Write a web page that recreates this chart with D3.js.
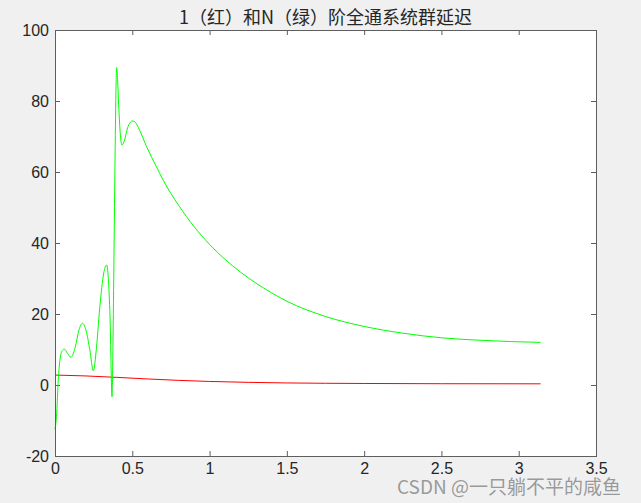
<!DOCTYPE html>
<html lang="zh">
  <head>
    <meta charset="UTF-8" />
    <title>群延迟</title>
    <script src="https://d3js.org/d3.v7.min.js"></script>
    <style>
      body { margin: 0; background: #f0f0f0; }
    </style>
  </head>
  <body>
    <script>
      // values (x in rad, y in samples)
      var redX = [0, 0.2, 0.4, 0.6, 0.8, 1.0, 1.25, 1.5, 2.0, 2.5, 3.1416];
      var redY = [2.8, 2.55, 2.15, 1.7, 1.3, 1.0, 0.75, 0.58, 0.43, 0.36, 0.33];

      var greenX = [0, 0.011, 0.021, 0.032, 0.043, 0.06, 0.08, 0.103, 0.13, 0.155,
        0.177, 0.2, 0.225, 0.248, 0.265, 0.29, 0.315, 0.334, 0.345, 0.356,
        0.369, 0.373, 0.38, 0.388, 0.394, 0.399, 0.405, 0.412, 0.423, 0.433,
        0.45, 0.47, 0.502, 0.52, 0.545, 0.593, 0.65, 0.7, 0.8, 0.9,
        1.0, 1.1, 1.2, 1.3, 1.4, 1.5, 1.75, 2.0, 2.25, 2.5,
        2.75, 3.1416];
      var greenY = [-12.5, -8, 1.4, 7.0, 9.4, 10.1, 9.0, 7.8, 10.5, 15.5,
        17.4, 15.5, 10, 4.0, 9, 22, 31.5, 33.8, 30, 19.2,
        -3.3, 5, 30, 62, 82, 89.4, 86, 78.9, 70.4, 67.6,
        69, 72.5, 74.4, 74.0, 72.0, 67.1, 62.0, 57.7, 50.6, 44.6,
        39.6, 35.4, 31.8, 28.7, 26.0, 23.6, 19.3, 16.5, 14.6, 13.3,
        12.6, 12.0];

      var xTicks = [0, 0.5, 1, 1.5, 2, 2.5, 3, 3.5];
      var yTicks = [-20, 0, 20, 40, 60, 80, 100];
      var title = "1（红）和N（绿）阶全通系统群延迟";

      var W = 641, H = 503;
      var m = { left: 55, right: 596, top: 30, bottom: 456 };

      var svg = d3.select("body").append("svg")
        .attr("width", W).attr("height", H);

      svg.append("rect").attr("width", W).attr("height", H).attr("fill", "#f0f0f0");
      svg.append("rect")
        .attr("x", m.left).attr("y", m.top)
        .attr("width", m.right - m.left).attr("height", m.bottom - m.top)
        .attr("fill", "#fff");

      var x = d3.scaleLinear().domain([0, 3.5]).range([m.left, m.right]);
      var y = d3.scaleLinear().domain([-20, 100]).range([m.bottom, m.top]);

      var fmt = function (d) { return String(d); };
      var font = "'Liberation Sans', Arial, sans-serif";

      function styleAxis(g) {
        g.select(".domain").remove();
        g.selectAll(".tick line").attr("stroke", "#5e5e5e");
        g.selectAll(".tick text")
          .attr("fill", "#262626")
          .style("font-family", font)
          .style("font-size", "16px");
      }

      svg.append("g").attr("transform", "translate(0," + m.bottom + ")")
        .call(d3.axisBottom(x).tickValues(xTicks).tickFormat(fmt)
          .tickSizeInner(-5).tickSizeOuter(0).tickPadding(7))
        .call(styleAxis);
      svg.append("g").attr("transform", "translate(0," + m.top + ")")
        .call(d3.axisTop(x).tickValues(xTicks).tickFormat("")
          .tickSizeInner(-5).tickSizeOuter(0))
        .call(styleAxis);
      svg.append("g").attr("transform", "translate(" + m.left + ",0)")
        .call(d3.axisLeft(y).tickValues(yTicks).tickFormat(fmt)
          .tickSizeInner(-5).tickSizeOuter(0).tickPadding(6))
        .call(styleAxis);
      svg.append("g").attr("transform", "translate(" + m.right + ",0)")
        .call(d3.axisRight(y).tickValues(yTicks).tickFormat("")
          .tickSizeInner(-5).tickSizeOuter(0))
        .call(styleAxis);

      var line = d3.line()
        .x(function (d) { return x(d[0]); })
        .y(function (d) { return y(d[1]); })
        .curve(d3.curveMonotoneX);

      svg.append("path")
        .datum(redX.map(function (v, i) { return [v, redY[i]]; }))
        .attr("d", line).attr("fill", "none")
        .attr("stroke", "#ff0000").attr("stroke-width", 1);

      svg.append("path")
        .datum(greenX.map(function (v, i) { return [v, greenY[i]]; }))
        .attr("d", line).attr("fill", "none")
        .attr("stroke", "#00ff00").attr("stroke-width", 1);

      // box
      svg.append("rect")
        .attr("x", m.left + 0.5).attr("y", m.top + 0.5)
        .attr("width", m.right - m.left).attr("height", m.bottom - m.top)
        .attr("fill", "none").attr("stroke", "#5e5e5e");

      svg.append("text")
        .attr("x", (m.left + m.right) / 2).attr("y", 24)
        .attr("text-anchor", "middle")
        .style("font-family", "'Noto Sans CJK SC', sans-serif")
        .style("font-size", "18px")
        .attr("fill", "#262626")
        .text(title);

      svg.append("text")
        .attr("x", 621).attr("y", 494)
        .attr("text-anchor", "end")
        .style("font-family", "'Noto Sans CJK SC', sans-serif")
        .style("font-size", "19px")
        .attr("fill", "#8a8a8a")
        .attr("fill-opacity", 0.85)
        .text("CSDN @一只躺不平的咸鱼");
    </script>
  </body>
</html>
